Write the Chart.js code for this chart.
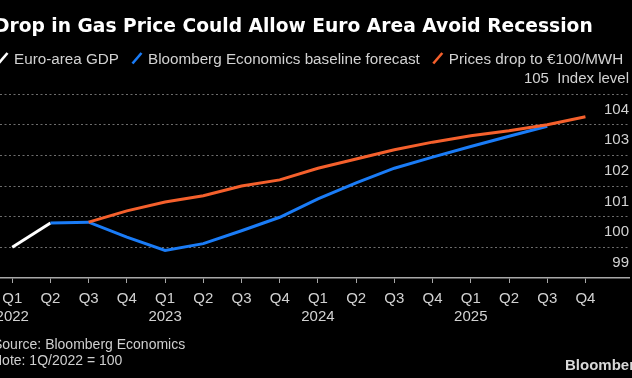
<!DOCTYPE html>
<html>
<head>
<meta charset="utf-8">
<script src="https://cdn.jsdelivr.net/npm/chart.js@4/dist/chart.umd.min.js"></script>
<style>
  html, body { margin: 0; padding: 0; background: #000; }
  canvas { display: block; background: #000; }
</style>
</head>
<body>
<canvas id="c" width="632" height="378"></canvas>
<script>
// ---- data ----
const quarters = ['Q1','Q2','Q3','Q4','Q1','Q2','Q3','Q4','Q1','Q2','Q3','Q4','Q1','Q2','Q3','Q4'];
const years    = ['2022','','','','2023','','','','2024','','','','2025','','',''];
const gdp      = [100, 100.79, null, null, null, null, null, null, null, null, null, null, null, null, null, null];
const baseline = [null, 100.79, 100.82, 100.33, 99.90, 100.12, 100.54, 100.98, 101.58, 102.10, 102.58, 102.94, 103.29, 103.62, 103.95, null];
const gasDrop  = [null, null, 100.82, 101.19, 101.48, 101.68, 102.00, 102.20, 102.58, 102.88, 103.18, 103.43, 103.64, 103.80, 104.00, 104.26];
const yTicks   = [99, 100, 101, 102, 103, 104, 105];

const titleText = 'Drop in Gas Price Could Allow Euro Area Avoid Recession';
const legendItems = [
  { label: 'Euro-area GDP', color: '#ffffff' },
  { label: 'Bloomberg Economics baseline forecast', color: '#1a7cf7' },
  { label: 'Prices drop to €100/MWH', color: '#f5602c' }
];
const sourceText = 'Source: Bloomberg Economics';
const noteText = 'Note: 1Q/2022 = 100';

const FONT = '"Liberation Sans", Arial, sans-serif';
const toPts = arr => arr.map((v, i) => v == null ? null : { x: i, y: v }).filter(p => p);

function fitSize(ctx, text, weight, family, target) {
  ctx.font = `${weight} 100px ${family}`;
  return 100 * target / ctx.measureText(text).width;
}

const decor = {
  id: 'decor',
  beforeDraw(chart) {
    const ctx = chart.ctx;
    ctx.save();
    ctx.fillStyle = '#000';
    ctx.fillRect(0, 0, chart.width, chart.height);
    ctx.restore();
  },
  afterDraw(chart) {
    const ctx = chart.ctx;
    ctx.save();
    // title
    const ts = fitSize(ctx, titleText, 'bold', '"DejaVu Sans"', 599);
    ctx.font = `bold ${ts}px "DejaVu Sans"`;
    ctx.fillStyle = '#ffffff';
    ctx.textBaseline = 'alphabetic';
    ctx.textAlign = 'left';
    ctx.fillText(titleText, -6, 31.5);
    // legend
    const ls = fitSize(ctx, legendItems[1].label, 'normal', FONT, 272);
    ctx.font = `${ls}px ${FONT}`;
    let cx = 3;
    legendItems.forEach(it => {
      ctx.strokeStyle = it.color;
      ctx.lineWidth = 2.6;
      ctx.beginPath();
      ctx.moveTo(cx - 4.5, 63.5);
      ctx.lineTo(cx + 4.5, 53);
      ctx.stroke();
      ctx.fillStyle = '#d2d2d2';
      const tx = cx + 11;
      ctx.fillText(it.label, tx, 63.5);
      cx = tx + ctx.measureText(it.label).width + 18;
    });
    // footer
    ctx.font = `14px ${FONT}`;
    ctx.fillStyle = '#cfcfcf';
    ctx.fillText(sourceText, -7, 348.5);
    ctx.fillText(noteText, -8, 364.5);
    // logo
    ctx.font = `bold 15px ${FONT}`;
    ctx.fillStyle = '#d8d8d8';
    ctx.fillText('Bloomberg', 565, 370);
    ctx.restore();
  }
};

new Chart(document.getElementById('c'), {
  type: 'line',
  data: {
    datasets: [
      { label: legendItems[2].label, data: toPts(gasDrop), borderColor: legendItems[2].color, borderWidth: 3, pointRadius: 0, tension: 0, order: 0 },
      { label: legendItems[1].label, data: toPts(baseline), borderColor: legendItems[1].color, borderWidth: 3, pointRadius: 0, tension: 0, order: 1 },
      { label: legendItems[0].label, data: toPts(gdp), borderColor: legendItems[0].color, borderWidth: 3, pointRadius: 0, tension: 0, order: 2 }
    ]
  },
  options: {
    responsive: false,
    animation: false,
    devicePixelRatio: 1,
    layout: { autoPadding: false, padding: { top: 94, left: 0, right: 0, bottom: 0 } },
    plugins: { legend: { display: false }, tooltip: { enabled: false }, title: { display: false } },
    scales: {
      x: {
        type: 'linear',
        min: -0.32,
        max: 16.14,
        afterBuildTicks: s => { s.ticks = quarters.map((q, i) => ({ value: i })); },
        afterFit: s => { s.height = 100; s.paddingLeft = 0; s.paddingRight = 0; },
        ticks: {
          autoSkip: false, maxRotation: 0, minRotation: 0, padding: 6,
          color: '#d2d2d2',
          font: { family: FONT, size: 15, lineHeight: 1.25 },
          callback: v => {
            const i = Math.round(v);
            return years[i] ? [quarters[i], years[i]] : quarters[i];
          }
        },
        grid: { drawOnChartArea: false, drawTicks: true, tickLength: 5, color: '#a8a8a8', lineWidth: 1 },
        border: { display: true, color: '#a8a8a8', width: 1.5 }
      },
      y: {
        position: 'right',
        min: 99,
        max: 105,
        afterBuildTicks: s => { s.ticks = yTicks.map(v => ({ value: v })); },
        afterFit: s => { s.width = 3; s.paddingTop = 0; s.paddingBottom = 0; },
        ticks: {
          mirror: true, padding: 0, labelOffset: -15,
          color: '#d2d2d2',
          font: { family: FONT, size: 15 },
          callback: v => v === 105 ? '105  Index level' : String(v)
        },
        grid: {
          drawTicks: false,
          color: c => (c.tick && c.tick.value === 99) ? 'rgba(0,0,0,0)' : '#6e6e6e',
          lineWidth: 1
        },
        border: { display: false, dash: [2, 2.5] }
      }
    }
  },
  plugins: [decor]
});
</script>
</body>
</html>
